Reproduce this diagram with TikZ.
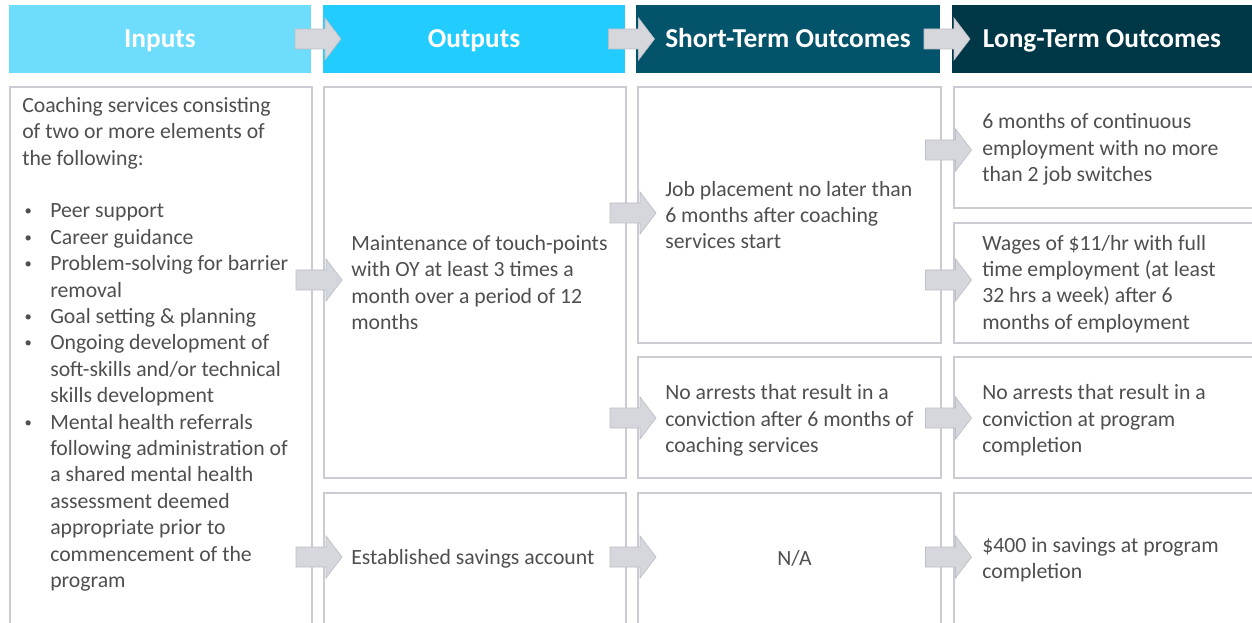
\documentclass[tikz,border=0pt]{standalone}
\usepackage{fontspec}
\setmainfont{Carlito}
\usepackage{tikz}
\usetikzlibrary{calc}
\definecolor{inblue}{HTML}{6DDCFD}
\definecolor{outblue}{HTML}{22CCFF}
\definecolor{shortteal}{HTML}{03536B}
\definecolor{longteal}{HTML}{003747}
\definecolor{boxgray}{HTML}{CBCBD3}
\definecolor{arrowfill}{HTML}{D6D6DD}
\definecolor{arrowline}{HTML}{BEBEC6}
\definecolor{txtgray}{HTML}{4F4F4F}
\tikzset{
cellbox/.style={draw=boxgray, line width=1.5pt, fill=white, inner sep=0pt},
headcell/.style={draw=none, inner sep=0pt, minimum height=51pt, text=white,
text height=16pt, text depth=2.5pt,
font=\fontsize{20.5}{24}\selectfont\bfseries},
bodytext/.style={inner sep=0pt, align=left, text=txtgray,
font=\fontsize{16.3}{19.8}\selectfont},
grayarrow/.style={fill=arrowfill, draw=arrowline, line width=0.5pt},
}
\newcommand*{\HeadCell}[5]{% #1 = name, #2/#3 = left/right x, #4 = color, #5 = text
\node [headcell, fill=#4, minimum width={(#3-#2)*0.75pt}]
(#1) at ({(#2+#3)/2},39) {#5};
}
\newcommand*{\BodyCell}[5]{% #1 = name, #2/#3 = top left, #4/#5 = bottom right
\node [cellbox, minimum width={(#4-#2)*0.75pt}, minimum height={(#5-#3)*0.75pt}]
(#1) at ({(#2+#4)/2},{(#3+#5)/2}) {};
}
\newcommand*{\GrayArrow}[3]{% #1 = from, #2 = to, #3 = y
\draw [grayarrow] ($(#1.east |- 0,#3)!.5!(#2.west |- 0,#3)$)
++(-22,-10) -- ++(30,0) -- ++(0,-11) -- ++(16,21)
-- ++(-16,21) -- ++(0,-11) -- ++(-30,0) -- cycle;
}
\newcommand*{\bul}{\makebox[21pt][l]{\hspace{1.8pt}\raisebox{1.6pt}{\fontsize{11}{11}\selectfont •}}}
\newcommand*{\ind}{\hspace*{21pt}}
\begin{document}
\begin{tikzpicture}[x=0.75pt, y=-0.75pt]
\useasboundingbox (0,0) rectangle (1252,623);
\fill [white] (0,0) rectangle (1252,623);
\clip (0,0) rectangle (1252,623);

% column heads
\HeadCell{hIn}{9}{311}{inblue}{Inputs}
\HeadCell{hOut}{323}{625}{outblue}{Outputs}
\HeadCell{hShort}{636}{940}{shortteal}{Short-Term Outcomes}
\HeadCell{hLong}{952}{1252}{longteal}{Long-Term Outcomes}

% cells
\BodyCell{bIn}{10}{87}{312}{640}
\BodyCell{bOut1}{324}{87}{626}{478}
\BodyCell{bOut2}{324}{493}{626}{625}
\BodyCell{bShortA}{638}{87}{941}{343}
\BodyCell{bShortB}{638}{357}{941}{478}
\BodyCell{bShortC}{638}{493}{941}{625}
\BodyCell{bLongA}{954}{87}{1262}{208}
\BodyCell{bLongB}{954}{223}{1262}{343}
\BodyCell{bLongC}{954}{357}{1262}{478}
\BodyCell{bLongD}{954}{493}{1262}{625}

% arrows
\GrayArrow{hIn}{hOut}{39}
\GrayArrow{hOut}{hShort}{39}
\GrayArrow{hShort}{hLong}{39}
\GrayArrow{bIn}{bOut1}{280}
\GrayArrow{bIn}{bOut2}{557}
\GrayArrow{bOut1}{bShortA}{213}
\GrayArrow{bOut1}{bShortB}{418}
\GrayArrow{bOut2}{bShortC}{557}
\GrayArrow{bShortA}{bLongA}{150}
\GrayArrow{bShortA}{bLongB}{280}
\GrayArrow{bShortB}{bLongC}{418}
\GrayArrow{bShortC}{bLongD}{557}

% texts
\node [bodytext, anchor=north west] (tIn) at ($(bIn.north west)+(13,11)$)
{Coaching services consisting\\
of two or more elements of\\
the following:\\[19.8pt]
\bul Peer support\\
\bul Career guidance\\
\bul Problem-solving for barrier\\
\ind removal\\
\bul Goal setting \& planning\\
\bul Ongoing development of\\
\ind soft-skills and/or technical\\
\ind skills development\\
\bul Mental health referrals\\
\ind following administration of\\
\ind a shared mental health\\
\ind assessment deemed\\
\ind appropriate prior to\\
\ind commencement of the\\
\ind program};
\node [bodytext, anchor=west] (tOut1) at ($(bOut1.west)+(28,0)$)
{Maintenance of touch-points\\with OY at least 3 times a\\month over a period of 12\\months};
\node [bodytext, anchor=west] (tOut2) at ($(bOut2.west)+(28,0)$)
{Established savings account};
\node [bodytext, anchor=west] (tShortA) at ($(bShortA.west)+(28,0)$)
{Job placement no later than\\6 months after coaching\\services start};
\node [bodytext, anchor=west] (tShortB) at ($(bShortB.west)+(28,3)$)
{No arrests that result in a\\conviction after 6 months of\\coaching services};
\node [bodytext] (tShortC) at ($(bShortC.center)+(5,-1)$) {N/A};
\node [bodytext, anchor=west] (tLongA) at ($(bLongA.west)+(29,2)$)
{6 months of continuous\\employment with no more\\than 2 job switches};
\node [bodytext, anchor=west] (tLongB) at ($(bLongB.west)+(29,1)$)
{Wages of \$11/hr with full\\time employment (at least\\32 hrs a week) after 6\\months of employment};
\node [bodytext, anchor=west] (tLongC) at ($(bLongC.west)+(29,3)$)
{No arrests that result in a\\conviction at program\\completion};
\node [bodytext, anchor=west] (tLongD) at ($(bLongD.west)+(29,1)$)
{\$400 in savings at program\\completion};
\end{tikzpicture}
\end{document}
